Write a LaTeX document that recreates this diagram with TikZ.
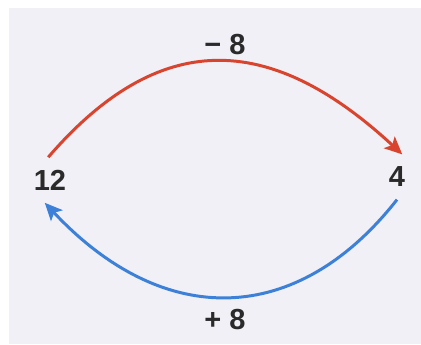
\documentclass[tikz,border=0pt]{standalone}
\usepackage{fontspec}
\setmainfont{Liberation Sans}
\usepackage{xcolor}
\usetikzlibrary{arrows.meta}

\definecolor{paper}{HTML}{F0F0F6}
\definecolor{arcred}{HTML}{D9442E}
\definecolor{arcblue}{HTML}{3C80D8}
\definecolor{numgray}{HTML}{2A2A2A}

\begin{document}
\begin{tikzpicture}[
  x=0.02cm, y=-0.02cm,
  num/.style={inner sep=7pt, text=numgray, font=\fontsize{16.5}{19}\selectfont\bfseries},
  arc/.style={line width=1.7pt, -{Stealth[length=10pt, width=9pt, inset=2.2pt]}}
]
  % page and grey card
  \fill[white] (0,0) rectangle (421,344);
  \fill[paper] (9,8) rectangle (421,344);

  \node[num] (twelve) at (50,180)  {12};
  \node[num] (four)   at (397,177) {4};
  \node[num] (minus)  at (225,45)  {− 8};
  \node[num] (plus)   at (225,320) {+ 8};

  \draw[arc, arcred]  ([xshift=-1pt]twelve.north) .. controls (158,30) and (268,30) .. ([xshift=3pt]four.north);
  \draw[arc, arcblue] (four.south) .. controls (297,327) and (164,330) .. ([xshift=-3pt]twelve.south);
\end{tikzpicture}
\end{document}
